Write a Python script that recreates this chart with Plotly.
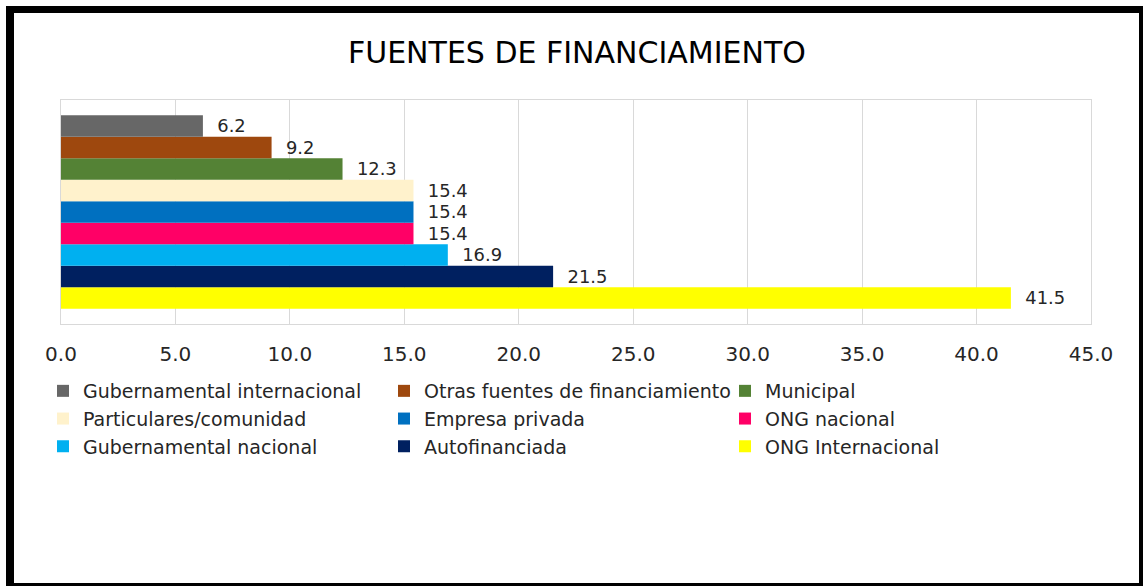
import plotly.graph_objects as go

series_names = [
    "Gubernamental internacional",
    "Otras fuentes de financiamiento",
    "Municipal",
    "Particulares/comunidad",
    "Empresa privada",
    "ONG nacional",
    "Gubernamental nacional",
    "Autofinanciada",
    "ONG Internacional",
]
series_values = [6.2, 9.2, 12.3, 15.4, 15.4, 15.4, 16.9, 21.5, 41.5]
series_colors = ["#676767", "#9E480E", "#548235", "#FFF2CC", "#0070C0",
                 "#FF0066", "#00B0F0", "#002060", "#FFFF00"]
category = [""]
tick_values = [0, 5, 10, 15, 20, 25, 30, 35, 40, 45]
tick_labels = ["0.0", "5.0", "10.0", "15.0", "20.0", "25.0", "30.0", "35.0", "40.0", "45.0"]

fig = go.Figure()
# Plotly places the first trace of a horizontal group at the bottom, so add in reverse
n = len(series_names)
for i in reversed(range(n)):
    fig.add_trace(go.Bar(
        y=category, x=[series_values[i]], name=series_names[i], orientation="h",
        marker=dict(color=series_colors[i], line=dict(width=0)),
        text=[series_values[i]], texttemplate="\u00a0\u00a0%{x:.1f}",
        textposition="outside", cliponaxis=False,
        textfont=dict(family="DejaVu Sans", size=20, color="#262626"),
        legendrank=i + 1,
    ))

W, H = 1147, 588
ml, mr, mt, mb = 61, 56, 100, 264
pw, ph = W - ml - mr, H - mt - mb

def px(x):
    return (x - ml) / pw

def py(y):
    return (H - mb - y) / ph

shapes = []
border = [
    (6, 6, 14, 586),      # left
    (6, 6, 1143, 13),     # top
    (1139, 6, 1143, 586), # right
    (6, 583, 1143, 586),  # bottom
]
for x0, y0, x1, y1 in border:
    shapes.append(dict(type="rect", xref="paper", yref="paper",
                       x0=px(x0), x1=px(x1), y0=py(y1), y1=py(y0),
                       fillcolor="black", line=dict(width=0), layer="above"))

fig.update_layout(
    width=W, height=H,
    margin=dict(l=ml, r=mr, t=mt, b=mb),
    paper_bgcolor="white", plot_bgcolor="white",
    barmode="group", bargap=0.137, bargroupgap=0,
    title=dict(text="FUENTES DE FINANCIAMIENTO", x=0.503, xref="container",
               y=1 - 52 / H, yref="container", xanchor="center", yanchor="middle",
               font=dict(family="DejaVu Sans", size=30, color="#000000")),
    xaxis=dict(range=[0, 45], tickvals=tick_values, ticktext=tick_labels,
               showgrid=True, gridcolor="#D9D9D9", gridwidth=1,
               showline=True, linecolor="#D9D9D9", mirror=True, zeroline=False,
               ticks="", ticklabelstandoff=12,
               tickfont=dict(family="DejaVu Sans", size=20, color="#262626")),
    yaxis=dict(range=[-0.5, 0.5], showticklabels=False, showgrid=False,
               showline=True, linecolor="#D9D9D9", mirror=True, zeroline=False,
               ticks=""),
    legend=dict(orientation="h", x=px(43), xanchor="left", y=py(372), yanchor="top",
                entrywidth=296, entrywidthmode="pixels", traceorder="normal",
                font=dict(family="DejaVu Sans", size=19, color="#262626"),
                itemsizing="constant", tracegroupgap=0, bgcolor="rgba(0,0,0,0)"),
    shapes=shapes,
    showlegend=True,
)

fig.write_html("out.html", config={"displayModeBar": False},
               post_script="document.body.style.margin='0';document.body.style.overflow='hidden';")
